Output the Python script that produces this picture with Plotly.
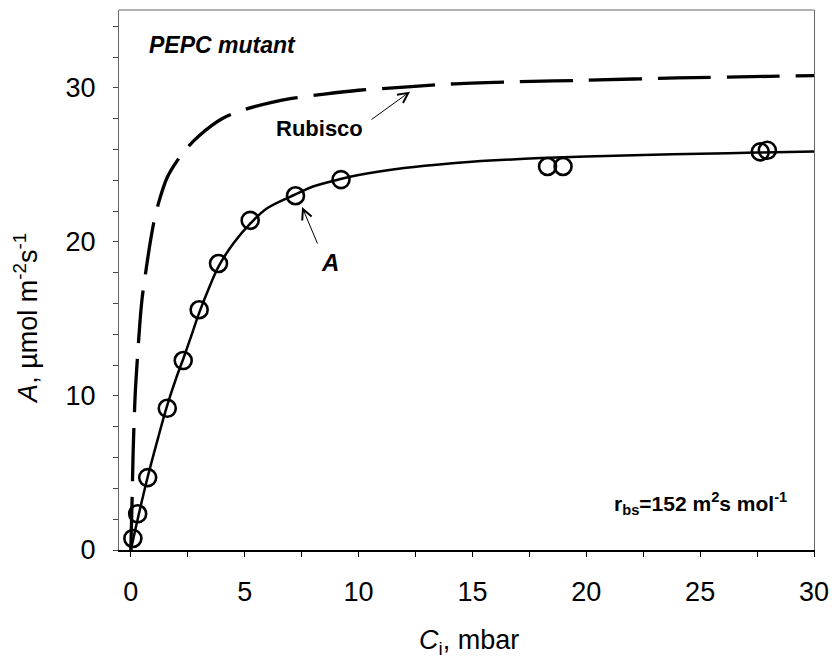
import plotly.graph_objects as go

# Measured gas exchange: net assimilation vs intercellular CO2
ci_obs = [0.09, 0.30, 0.74, 1.60, 2.30, 3.00, 3.85, 5.24, 7.23, 9.23, 18.30, 18.98, 27.64, 27.95]
a_obs = [0.75, 2.35, 4.70, 9.20, 12.30, 15.60, 18.60, 21.40, 23.00, 24.05, 24.90, 24.90, 25.85, 25.95]

# Fitted model curve for A
ci_fit = [0.0, 0.3, 0.75, 1.2, 1.6, 2.0, 2.3, 2.7, 3.0, 3.4, 3.85, 4.5, 5.25, 6.0, 7.25, 8.0,
          9.25, 10.0, 12.0, 14.0, 16.0, 18.0, 20.0, 22.5, 25.0, 27.5, 30.0]
a_fit = [0.0, 2.0, 4.8, 7.3, 9.4, 11.2, 12.4, 14.1, 15.4, 16.9, 18.4, 19.9, 21.2, 22.2, 23.1, 23.6,
         24.1, 24.35, 24.8, 25.1, 25.3, 25.45, 25.55, 25.65, 25.72, 25.8, 25.88]

# Rubisco-limited rate
ci_rub = [0.0, 0.03, 0.06, 0.1, 0.15, 0.2, 0.3, 0.4, 0.5, 0.65, 0.8, 1.0, 1.25, 1.6, 2.0, 2.4,
          3.0, 4.0, 5.0, 6.0, 7.0, 8.5, 10.0, 12.0, 14.0, 17.0, 20.0, 24.0, 28.0, 30.0]
a_rub = [0.0, 1.8, 3.6, 6.3, 8.6, 10.4, 12.7, 14.8, 16.4, 18.0, 19.5, 21.2, 22.7, 24.2, 25.2, 26.0,
         26.9, 28.0, 28.6, 29.0, 29.3, 29.6, 29.85, 30.05, 30.25, 30.4, 30.5, 30.65, 30.75, 30.8]

x_ticks = [0, 5, 10, 15, 20, 25, 30]
y_ticks = [0, 10, 20, 30]

FONT = "Liberation Sans, Arial, sans-serif"

fig = go.Figure()

fig.add_trace(go.Scatter(
    x=ci_rub, y=a_rub, mode="lines", line_shape="spline",
    line=dict(color="black", width=3.3, dash="53px,16px", smoothing=0.8),
    hoverinfo="skip", showlegend=False,
))
fig.add_trace(go.Scatter(
    x=ci_fit, y=a_fit, mode="lines", line_shape="spline",
    line=dict(color="black", width=2.5),
    hoverinfo="skip", showlegend=False,
))
fig.add_trace(go.Scatter(
    x=ci_obs, y=a_obs, mode="markers",
    marker=dict(symbol="circle-open", size=17, color="black", line=dict(width=2.6, color="black")),
    showlegend=False,
))

annotations = [
    dict(x=4.02, y=32.8, xref="x", yref="y", text="<b><i>PEPC mutant</i></b>",
         showarrow=False, font=dict(family=FONT, size=23, color="black")),
    dict(x=8.28, y=27.36, xref="x", yref="y", text="<b>Rubisco</b>",
         showarrow=False, font=dict(family=FONT, size=22, color="black")),
    dict(x=8.74, y=18.67, xref="x", yref="y", text="<b><i>A</i></b>",
         showarrow=False, font=dict(family=FONT, size=24, color="black")),
    dict(x=25.0, y=3.05, xref="x", yref="y",
         text="<b>r<sub>bs</sub>=152 m<sup>2</sup>s mol<sup>-1</sup></b>",
         showarrow=False, font=dict(family=FONT, size=21, color="black")),
    # pointer arrows
    dict(x=12.26, y=29.76, xref="x", yref="y", text="", showarrow=True,
         ax=-40, ay=29, arrowhead=5, arrowsize=2, arrowwidth=1, arrowcolor="black"),
    dict(x=7.52, y=22.27, xref="x", yref="y", text="", showarrow=True,
         ax=16, ay=38, arrowhead=5, arrowsize=2, arrowwidth=1, arrowcolor="black"),
    # axis titles
    dict(x=0.504, y=-0.170, xref="paper", yref="paper", xanchor="center", yanchor="middle",
         text="<i>C</i><sub>i</sub>, mbar",
         showarrow=False, font=dict(family=FONT, size=27, color="black")),
    dict(x=-0.134, y=0.4296, xref="paper", yref="paper", xanchor="center", yanchor="middle",
         textangle=-90, text="<i>A</i>, µmol m<sup>-2</sup>s<sup>-1</sup>",
         showarrow=False, font=dict(family=FONT, size=27, color="black")),
]

fig.update_layout(
    width=839, height=658,
    margin=dict(l=119, r=18, t=10, b=108),
    paper_bgcolor="white", plot_bgcolor="white",
    font=dict(family=FONT, size=27, color="black"),
    annotations=annotations,
    shapes=[dict(type="line", xref="paper", yref="paper", x0=0, x1=1, y0=1, y1=1,
                 line=dict(color="#666666", width=1))],
    xaxis=dict(
        range=[-0.52, 30], tickvals=x_ticks, showgrid=False, zeroline=False,
        showline=True, linecolor="black", linewidth=2, mirror=False,
        ticks="outside", ticklen=5, tickwidth=1, tickcolor="black",
        minor=dict(dtick=2.5, tick0=0, ticks="outside", ticklen=5, tickwidth=1, tickcolor="black"),
        ticklabelstandoff=12,
        tickfont=dict(family=FONT, size=27, color="black"),
    ),
    yaxis=dict(
        range=[0, 35.06], tickvals=y_ticks, showgrid=False, zeroline=False,
        showline=True, linecolor="#666666", linewidth=1, mirror=True,
        ticks="outside", ticklen=5, tickwidth=1, tickcolor="#444444",
        minor=dict(dtick=2, tick0=0, ticks="outside", ticklen=5, tickwidth=1, tickcolor="#444444"),
        ticklabelstandoff=12,
        tickfont=dict(family=FONT, size=27, color="black"),
    ),
)

fig.write_html("out.html")
